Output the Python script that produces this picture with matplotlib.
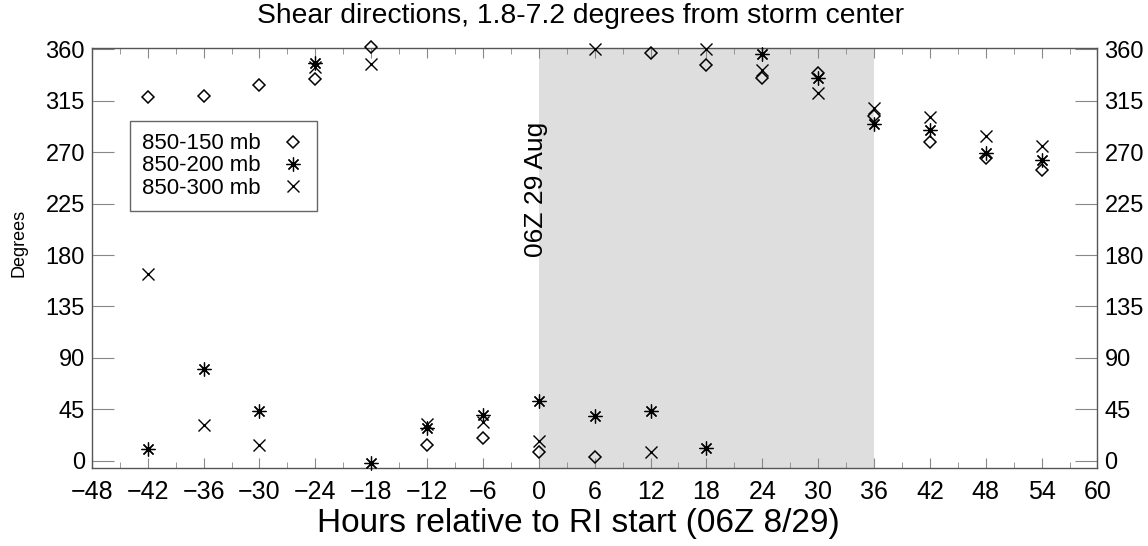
import matplotlib
matplotlib.use("Agg")
import matplotlib.pyplot as plt

plt.rcParams['font.family'] = ['Liberation Sans', 'DejaVu Sans']

hours = [-42, -36, -30, -24, -18, -12, -6, 0, 6, 12, 18, 24, 30, 36, 42, 48, 54]
dir_150 = [318, 319, 329, 334, 362, 14, 20, 8, 3, 357, 346, 335, 339, 302, 279, 265, 254]
dir_200 = [10, 80, 44, 348, -2, 29, 40, 52, 39, 44, 11, 356, 335, 295, 289, 269, 263]
dir_300 = [163, 31, 14, 344, 347, 32, 34, 17, 360, 8, 360, 342, 322, 309, 301, 284, 275]

ri_window = (0, 36)
xticks = list(range(-48, 61, 6))
yticks = list(range(0, 361, 45))

fig = plt.figure(figsize=(11.48, 5.46), dpi=100)
ax = fig.add_axes([0.080, 0.1434, 0.876, 0.7686])

# shaded RI period
ax.axvspan(*ri_window, color='#dedede', lw=0, zorder=0)
ax.text(-0.3, 237, '06Z 29 Aug', rotation=90, ha='center', va='center', fontsize=19)

ax.plot(hours, dir_150, linestyle='none', marker='D', ms=5.8, mfc='none', mec='black',
        mew=1.1, label='850-150 mb', clip_on=False, zorder=3)
ax.plot(hours, dir_200, linestyle='none', marker=(8, 2, 0), ms=10, mec='black',
        mew=0.9, label='850-200 mb', clip_on=False, zorder=3)
ax.plot(hours, dir_300, linestyle='none', marker='x', ms=9, mec='black',
        mew=1.0, label='850-300 mb', clip_on=False, zorder=3)

ax.set_xlim(-48, 60)
ax.set_ylim(-6, 361)
ax.set_xticks(xticks)
ax.set_xticks(range(-45, 60, 6), minor=True)
ax.set_yticks(yticks)
ax.tick_params(axis='x', which='major', direction='in', length=7, color='#888888',
               labelsize=18, top=True, pad=9)
ax.tick_params(axis='x', which='minor', direction='in', length=4, color='#888888', top=True)
ax.tick_params(axis='y', direction='in', length=16, color='#888888', labelsize=17,
               left=True, right=True, labelright=True, pad=5)
for s in ax.spines.values():
    s.set_color('#555555')
    s.set_linewidth(1.0)

ax.set_title('Shear directions, 1.8-7.2 degrees from storm center', fontsize=20.3, pad=18, x=0.486)
ax.set_xlabel('Hours relative to RI start (06Z 8/29)', fontsize=24, labelpad=2)
ax.xaxis.set_label_coords(0.484, -0.095)
ax.xaxis.label.set_va('top')
ax.set_ylabel('Degrees', fontsize=13)
ax.yaxis.set_label_coords(-0.064, 0.535)

leg = ax.legend(loc='upper left', bbox_to_anchor=(0.038, 0.826), borderaxespad=0,
                markerfirst=False, fancybox=False, framealpha=1, edgecolor='#666666',
                fontsize=16, handlelength=1.0, handletextpad=0.95, borderpad=0.55,
                labelspacing=0.05, numpoints=1)
leg.get_frame().set_linewidth(1.0)

fig.savefig('out.png', dpi=100)
